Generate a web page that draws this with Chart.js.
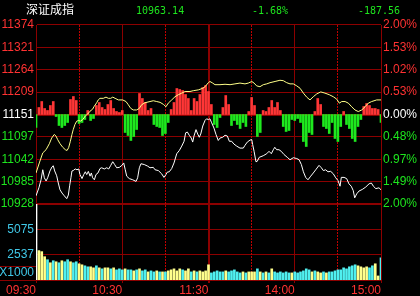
<!DOCTYPE html>
<html><head><meta charset="utf-8">
<script src="https://cdn.jsdelivr.net/npm/chart.js@4/dist/chart.umd.min.js"></script>
<style>
html,body{margin:0;padding:0;background:#000;}
#wrap{position:relative;width:420px;height:296px;overflow:hidden;background:#000;}
#c{position:absolute;left:0;top:0;}
.hd{position:absolute;white-space:pre;line-height:12px;}
.num{font-family:"DejaVu Sans Mono",monospace;font-size:10px;color:#1ee61e;top:5px;}
#hName{left:26px;top:3px;font-family:"Noto Sans CJK SC",sans-serif;font-size:12px;color:#fff;}
</style></head><body>
<div id="wrap">
<canvas id="c" width="420" height="296"></canvas>
<div class="hd" id="hName"></div>
<div class="hd num" id="hPrice" style="left:136px"></div>
<div class="hd num" id="hPct" style="left:252px"></div>
<div class="hd num" id="hChg" style="left:358px"></div>
</div>
<script>
// ---------- data ----------
const indexName = '深证成指';
const lastPrice = 10963.14;
const changePct = -1.68;
const changeAmt = -187.56;
const prevClose = 11150.70;

const priceTickLabels = ['11374','11321','11264','11209','11151','11097','11042','10985','10928']; // top -> bottom
const pctTickLabels = ['2.00%','1.53%','1.02%','0.53%','0.00%','0.48%','0.97%','1.49%','2.00%'];
const volTickLabels = ['X1000','2537','5075',''];
const timeLabels = ['09:30','10:30','11:30','14:00','15:00'];
const halfHourMarks = [30, 90, 150, 210]; // 10:00, 11:00, 13:30, 14:30 (minutes from open)

// index line (white): minute offset from 09:30 (0..240) and value
const priceTime = [0,2,3.5,4.7,5.8,7,8.1,9.7,11.1,12,13,14.4,15.5,16.7,18.1,19.7,21.4,22.5,23.4,24.3,25,25.9,27.3,28.5,29.7,30.6,32,33.2,34.3,35.3,36.4,37.6,38.5,39.4,40.6,41.7,43.1,44.5,45.7,47.5,49.2,50.6,52,53.4,54.7,56.1,58,59.8,61,62.1,63.1,64.9,67.3,69.6,70.7,71.9,73,75.3,77.7,79.3,81.6,82.8,85.1,87.4,89,90.4,91.3,92.7,94.4,96,97.9,99.7,101.4,103,104.1,105.3,106.6,108,109,109.9,111.3,112.5,113.6,114.6,116,117.6,118.7,119.9,121,122.2,123.8,125.2,126.8,128,129.9,131.5,133.1,134.5,136.1,137.7,139.6,141.9,144.2,145.4,147,148.9,150.1,150.7,151.7,153,153.9,155.3,158.1,160.5,162.1,163.7,165.1,166.1,167.4,169,170.6,172.5,174.8,176.7,179,181.4,183,184.6,186,187.6,189.2,191.1,192.9,194.6,196.9,198.5,199.9,201.5,203.1,205,206.8,208.5,210.1,211.5,212.4,214.3,216.1,217.7,219.3,220.7,221.7,223.1,224.7,227,229.4,231.7,233.3,234.7,236.4,238.6,240];
const priceValue = [10948,10968,10988,11013,10993,10985,10993,11010,11020,11023,11010,10998,10980,10963,10955,10948,10941,10950,10973,10993,11010,11011,11015,11013,11015,11001,10991,11001,11008,11001,11009,10997,11005,10993,10988,11001,11005,11016,11018,11015,11018,11015,11024,11033,11026,11018,11019,11024,11030,11013,10997,10991,10988,10984,10993,11018,11028,11026,11022,11018,11019,11013,11011,11003,10994,11001,11007,11008,11016,11030,11053,11061,11072,11084,11105,11107,11099,11092,11082,11097,11113,11102,11094,11102,11122,11136,11140,11138,11140,11130,11117,11101,11086,11092,11094,11099,11097,11084,11084,11077,11072,11067,11067,11074,11082,11087,11088,11076,11059,11033,11034,11044,11048,11053,11059,11053,11063,11069,11063,11063,11059,11051,11044,11038,11043,11041,11038,11026,11008,10994,10988,10997,11005,11013,11024,11018,11011,11013,11008,11009,11003,10993,10986,10972,10994,10994,10991,10978,10972,10961,10943,10953,10960,10964,10970,10978,10980,10972,10966,10968,10963.14];

// leading line (yellow)
const leadTime = [0,2.3,4.7,7,9.3,10.9,12.7,13.9,15.1,16.7,18.6,20.4,21.6,22.7,23.9,25,25.9,27.1,28.3,29.7,30.8,32.5,34.3,36,37.6,39.4,40.3,42.2,43.3,44.5,46.8,48.7,50.3,52,53.4,55,57.3,60.3,62.6,64.2,65.9,67.7,70,71.9,73.5,75.8,79.3,81.6,84,86.3,88.6,90.4,92,94.4,96.7,99,101.4,103.7,107.1,109.4,112.9,116,117.6,119.9,121,122.9,124.5,128,131.5,135,138.4,141.9,145.4,147.7,150.1,151.7,153.5,155.8,158.1,160.5,162.8,166.3,169.7,172,174.4,176.7,179,181.4,183.7,186,188.3,190.6,192.9,195.3,198.1,201,204,206.8,209.2,211,212.7,215,217.3,219.6,221.9,224.2,226.6,228.9,231.2,233.5,237,240];
const leadValue = [11005,11030,11055,11063,11078,11092,11101,11097,11088,11078,11069,11063,11061,11068,11084,11101,11113,11126,11134,11136,11134,11138,11147,11152,11159,11164,11170,11180,11187,11191,11191,11194,11191,11191,11194,11191,11187,11187,11183,11175,11166,11162,11162,11166,11175,11180,11183,11185,11183,11181,11176,11170,11179,11187,11195,11200,11204,11208,11208,11210,11212,11216,11220,11230,11233,11229,11225,11225,11226,11225,11227,11229,11227,11229,11233,11229,11222,11220,11225,11227,11230,11233,11236,11235,11230,11227,11227,11222,11216,11204,11194,11187,11195,11202,11207,11204,11200,11195,11189,11179,11183,11183,11179,11170,11162,11158,11162,11170,11179,11183,11187,11187];

// buy/sell strength bars, one per 2 minutes (positive = red, negative = green)
const strength = [-13,7,13,6,4,9,13,-2,-11,-13,
 -11,-8,15,18,14,-9,-8,-5,4,-6,
 -4,9,12,7,5,10,14,6,3,2,
 4,-18,-21,-26,-22,-15,21,16,12,4,
 6,-10,-12,-13,-21,-19,-8,5,12,26,
 25,24,20,16,4,16,13,20,27,29,
 23,10,-10,-13,-3,7,19,10,-11,-6,
 -10,-14,-8,-12,3,17,9,-22,-18,4,
 3,7,14,7,12,4,-12,-17,-16,-5,
 -6,-4,-8,-27,-32,-18,-20,3,16,10,
 -12,-14,-19,-8,-24,-27,-12,3,-10,-14,
 -24,-27,-12,-5,8,11,9,6,6,5,-8];

// volume (x1000), one per 2 minutes; first bar is the opening auction (clipped at top)
const volume = [7612,2944,2842,2335,2030,1726,1929,1827,1726,1929,
 1827,2030,1827,1726,1827,1624,1523,1421,1320,1320,
 1218,1421,1218,1117,1218,1218,1117,1218,1015,1117,
 1015,1117,1015,1015,914,1015,1117,914,1015,812,
 914,812,914,812,812,812,914,1015,1117,914,
 1117,1015,914,1117,812,914,812,914,812,914,
 1523,711,812,914,812,812,914,812,914,1015,
 812,711,812,711,812,812,812,1117,812,711,
 812,711,1117,812,711,812,711,812,711,711,
 812,711,812,914,1117,1015,812,914,812,711,
 812,711,812,812,914,1015,1015,1218,1117,1320,
 1421,1523,1421,1320,1218,1320,1218,1421,1624,406,2233];
// 1 = price up in that interval, 0 = down
const volUp = [1,1,1,1,0,1,0,1,0,1,
 0,0,1,0,0,1,1,0,0,1,
 1,0,1,0,1,1,0,1,0,0,
 0,1,0,0,1,0,1,0,0,1,
 0,0,1,0,1,0,1,1,1,1,
 1,0,1,1,0,1,0,1,1,1,
 1,0,0,0,0,0,1,0,0,0,
 0,0,1,0,1,1,1,0,1,0,
 1,0,1,0,0,0,0,0,0,1,
 0,0,0,0,0,0,1,0,1,1,
 0,1,0,0,0,0,0,0,0,0,
 0,0,1,1,1,1,0,0,1,1,0];

// ---------- header ----------
document.getElementById('hName').textContent = indexName;
document.getElementById('hPrice').textContent = lastPrice.toFixed(2);
document.getElementById('hPct').textContent = changePct.toFixed(2) + '%';
document.getElementById('hChg').textContent = changeAmt.toFixed(2);

// ---------- styles ----------
const GRID = '#8c0000';
const DOT = '#c00000';
const RED = '#ff3232', GREEN = '#1ee61e', WHITE = '#ffffff', CYAN_T = '#40c8e8';
const BAR_RED = '#ff3636', BAR_GREEN = '#1ee81e';
const VOL_Y = '#ffff8c', VOL_C = '#50f0f0';
const LINE_Y = '#ffff88';
const FONT = {family: 'Liberation Sans, Arial, sans-serif', size: 12};

const span = prevClose * 0.02;
const STR_UNIT = span * 2 / 179;
const volMax = 2537.33 * 3;

// dotted half-hour grid lines and the small unit box, positioned from the x scale / chart area
const frameDeco = {
  id: 'frameDeco',
  beforeDatasetsDraw(chart) {
    const ctx = chart.ctx, area = chart.chartArea, xs = chart.scales.x;
    if (!area || !xs) return;
    ctx.save();
    ctx.fillStyle = DOT;
    halfHourMarks.forEach(m => {
      const px = Math.round(xs.getPixelForValue(m) - 0.5);
      for (let y = Math.round(area.top); y < area.bottom; y += 3) ctx.fillRect(px, y, 1, 2);
    });
    ctx.restore();
  },
  afterDraw(chart) {
    const ctx = chart.ctx, area = chart.chartArea;
    if (!area) return;
    ctx.save();
    ctx.fillStyle = GRID;
    ctx.fillRect(0, Math.round(area.bottom - 14), Math.round(area.left), 1);
    ctx.fillRect(0, Math.round(area.bottom), Math.round(area.left), 1);
    ctx.restore();
  }
};
Chart.register(frameDeco);

new Chart(document.getElementById('c'), {
  type: 'line',
  data: {
    datasets: [
      { type: 'line', data: priceTime.map((t, i) => ({x: t, y: priceValue[i]})), xAxisID: 'x', yAxisID: 'price',
        borderColor: WHITE, borderWidth: 1, pointRadius: 0, tension: 0, order: 0 },
      { type: 'line', data: leadTime.map((t, i) => ({x: t, y: leadValue[i]})), xAxisID: 'x', yAxisID: 'price',
        borderColor: LINE_Y, borderWidth: 1, pointRadius: 0, tension: 0, order: 1 },
      { type: 'bar', data: strength.map((s, i) => ({x: i * 2, y: [prevClose, prevClose + s * STR_UNIT]})), xAxisID: 'x', yAxisID: 'price',
        backgroundColor: c => strength[c.dataIndex] >= 0 ? BAR_RED : BAR_GREEN, barThickness: 2, grouped: false, order: 2 },
      { type: 'bar', data: volume.map((v, i) => ({x: i * 2, y: v})), xAxisID: 'x', yAxisID: 'vol',
        backgroundColor: c => c.dataIndex === 0 ? WHITE : (volUp[c.dataIndex] ? VOL_Y : VOL_C), barThickness: 2, grouped: false, order: 3 }
    ]
  },
  options: {
    responsive: false, animation: false, events: [],
    layout: {padding: {top: 25, left: 0, right: 0, bottom: 0}},
    plugins: {legend: {display: false}, tooltip: {enabled: false}},
    scales: {
      x: {
        type: 'linear', position: 'bottom', min: 0, max: 240, offset: false,
        afterBuildTicks: s => { s.ticks = timeLabels.map((_, i) => ({value: i * 60})); },
        afterFit: s => { s.height = 16; },
        ticks: {autoSkip: false, maxRotation: 0, minRotation: 0, align: 'end', padding: 0, color: RED, font: FONT,
          callback: (v, i) => timeLabels[i]},
        grid: {color: GRID, lineWidth: c => c.index === 2 ? 2 : 1, tickLength: 3, drawTicks: true, tickColor: GRID, offset: false},
        border: {color: GRID}
      },
      price: {
        type: 'linear', position: 'left', stack: 'L', stackWeight: 179, weight: 2,
        min: prevClose - span, max: prevClose + span,
        afterBuildTicks: s => { s.ticks = priceTickLabels.map((_, k) => ({value: prevClose - span + k * span / 4})); },
        afterFit: s => { s.width = 36; },
        ticks: {autoSkip: false, padding: 2, font: FONT,
          callback: (v, i) => priceTickLabels[8 - i],
          color: c => c.index < 4 ? GREEN : (c.index === 4 ? WHITE : RED)},
        grid: {color: GRID, drawTicks: false, lineWidth: c => (c.index === 4 || c.index === 0) ? 2 : 1},
        border: {color: GRID}
      },
      vol: {
        type: 'linear', position: 'left', stack: 'L', stackWeight: 76, weight: 1,
        min: 0, max: volMax,
        afterBuildTicks: s => { s.ticks = [volMax * 0.092, volMax / 3, volMax * 2 / 3, volMax].map(v => ({value: v})); },
        afterFit: s => { s.width = 36; },
        ticks: {autoSkip: false, padding: 2, font: FONT, color: CYAN_T,
          callback: (v, i) => volTickLabels[i]},
        grid: {drawTicks: false, color: c => (c.index === 1 || c.index === 2) ? GRID : 'rgba(0,0,0,0)'},
        border: {color: GRID}
      },
      pct: {
        type: 'linear', position: 'right', stack: 'R', stackWeight: 179, weight: 1,
        min: -2, max: 2,
        afterBuildTicks: s => { s.ticks = pctTickLabels.map((_, k) => ({value: -2 + k * 0.5})); },
        afterFit: s => { s.width = 39; },
        ticks: {autoSkip: false, padding: 2, font: FONT,
          callback: (v, i) => pctTickLabels[8 - i],
          color: c => c.index < 4 ? GREEN : (c.index === 4 ? WHITE : RED)},
        grid: {drawOnChartArea: false, drawTicks: false},
        border: {color: GRID}
      },
      volR: {
        type: 'linear', position: 'right', stack: 'R', stackWeight: 76, weight: 2,
        min: 0, max: 1,
        afterFit: s => { s.width = 39; },
        ticks: {display: false},
        grid: {drawOnChartArea: false, drawTicks: false},
        border: {color: GRID}
      }
    }
  }
});
</script>
</body></html>
